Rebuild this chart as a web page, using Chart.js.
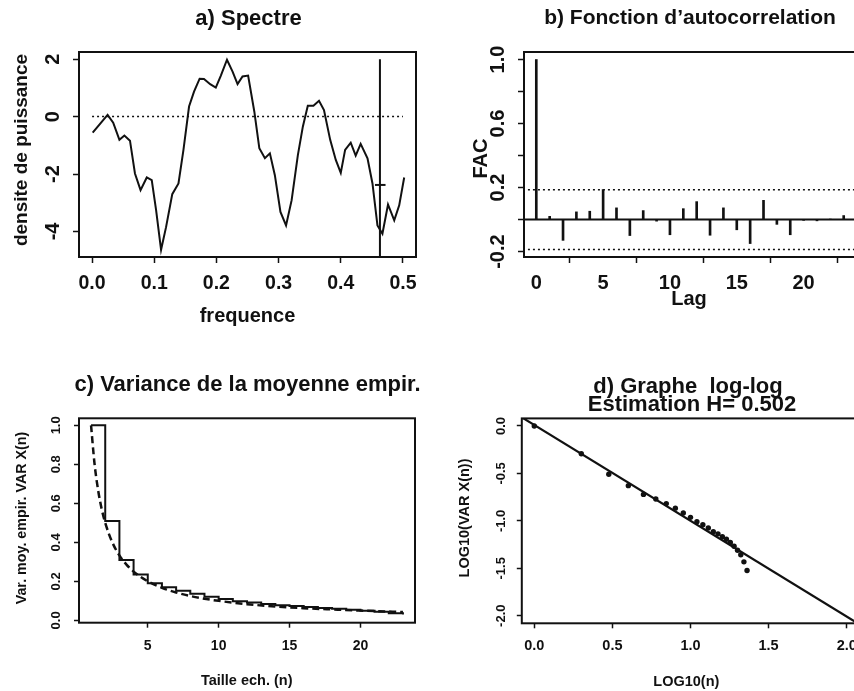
<!DOCTYPE html>
<html><head><meta charset="utf-8">
<script src="https://cdn.jsdelivr.net/npm/chart.js@4.4.1/dist/chart.umd.min.js"></script>
<style>
html,body{margin:0;padding:0;background:#fff;overflow:hidden;width:854px;height:691px;}
canvas{position:absolute;}
</style></head>
<body>
<canvas id="ca" width="430" height="345" style="left:0px;top:0px"></canvas>
<canvas id="cb" width="440" height="345" style="left:430px;top:0px"></canvas>
<canvas id="cc" width="430" height="346" style="left:0px;top:345px"></canvas>
<canvas id="cd" width="440" height="346" style="left:430px;top:345px"></canvas>
<script>
// ---------- a) Spectre ----------
const spectrumFreq = [0.001, 0.025, 0.034, 0.044, 0.052, 0.061, 0.069, 0.078, 0.088, 0.096, 0.103, 0.111, 0.119, 0.129, 0.139, 0.147, 0.156, 0.164, 0.173, 0.180, 0.190, 0.199, 0.207, 0.217, 0.226, 0.234, 0.242, 0.251, 0.261, 0.269, 0.278, 0.286, 0.294, 0.303, 0.312, 0.321, 0.331, 0.339, 0.347, 0.356, 0.365, 0.373, 0.383, 0.392, 0.400, 0.407, 0.416, 0.424, 0.432, 0.443, 0.451, 0.459, 0.467, 0.476, 0.486, 0.494, 0.502];
const spectrumDensity = [-0.56, 0.06, -0.21, -0.81, -0.66, -0.84, -1.98, -2.56, -2.12, -2.21, -3.26, -4.64, -3.85, -2.70, -2.33, -1.16, 0.35, 0.87, 1.32, 1.31, 1.13, 1.01, 1.42, 1.98, 1.57, 1.13, 1.40, 1.43, 0.17, -1.10, -1.45, -1.28, -2.04, -3.32, -3.79, -2.91, -1.34, -0.35, 0.38, 0.38, 0.55, 0.23, -0.81, -1.51, -1.96, -1.16, -0.91, -1.36, -0.95, -1.45, -2.33, -3.79, -4.08, -3.06, -3.61, -3.09, -2.12];
const spectrumRefFreq = [0, 0.5];
const spectrumRefDensity = [0, 0];
const ciBarFreq = [0.463, 0.463];
const ciBarDensity = [2.0, -5.5];
const ciTickFreq = [0.455, 0.472];
const ciTickDensity = [-2.38, -2.38];
const spectrumXTicks = [0, 0.1, 0.2, 0.3, 0.4, 0.5];
const spectrumXLabels = ['0.0', '0.1', '0.2', '0.3', '0.4', '0.5'];
const spectrumYTicks = [-4, -2, 0, 2];
const spectrumYLabels = ['-4', '-2', '0', '2'];

// ---------- b) Fonction d'autocorrelation ----------
const acfLag = [0, 1, 2, 3, 4, 5, 6, 7, 8, 9, 10, 11, 12, 13, 14, 15, 16, 17, 18, 19, 20, 21, 22, 23];
const acfValue = [1.0, 0.02, -0.13, 0.048, 0.052, 0.187, 0.073, -0.10, 0.056, -0.01, -0.095, 0.068, 0.112, -0.098, 0.073, -0.064, -0.15, 0.12, -0.03, -0.095, -0.005, -0.008, 0.003, 0.025];
const acfBound = [0.187, -0.187];
const acfXTicks = [0, 5, 10, 15, 20];
const acfXLabels = ['0', '5', '10', '15', '20'];
const acfYTicks = [-0.2, 0, 0.2, 0.4, 0.6, 0.8, 1.0];
const acfYLabels = ['-0.2', '', '0.2', '', '0.6', '', '1.0'];

// ---------- c) Variance de la moyenne empirique ----------
const sampleSize = [1, 2, 3, 4, 5, 6, 7, 8, 9, 10, 11, 12, 13, 14, 15, 16, 17, 18, 19, 20, 21, 22, 23];
const sampleVar = [1.0, 0.51, 0.31, 0.235, 0.19, 0.17, 0.152, 0.136, 0.121, 0.109, 0.098, 0.091, 0.084, 0.077, 0.073, 0.068, 0.064, 0.059, 0.054, 0.049, 0.044, 0.037, 0.030];
const theoSize = [1, 1.25, 1.5, 1.75, 2, 2.5, 3, 3.5, 4, 5, 6, 7, 8, 9, 10, 12, 14, 16, 18, 20, 23];
const theoVar = [1.0, 0.80, 0.667, 0.571, 0.50, 0.40, 0.333, 0.286, 0.25, 0.20, 0.167, 0.143, 0.125, 0.111, 0.10, 0.083, 0.071, 0.0625, 0.056, 0.05, 0.043];
const varXTicks = [5, 10, 15, 20];
const varXLabels = ['5', '10', '15', '20'];
const varYTicks = [0, 0.2, 0.4, 0.6, 0.8, 1.0];
const varYLabels = ['0.0', '0.2', '0.4', '0.6', '0.8', '1.0'];

// ---------- d) Graphe log-log ----------
const logSize = [0, 0.301, 0.477, 0.602, 0.699, 0.778, 0.845, 0.903, 0.954, 1.0, 1.041, 1.079, 1.114, 1.146, 1.176, 1.204, 1.230, 1.255, 1.279, 1.301, 1.322, 1.342, 1.362];
const logVar = [0, -0.292, -0.509, -0.629, -0.721, -0.770, -0.818, -0.866, -0.917, -0.963, -1.009, -1.041, -1.076, -1.114, -1.137, -1.167, -1.194, -1.229, -1.268, -1.310, -1.357, -1.432, -1.523];
const fitLineX = [-0.08, 2.08];
const fitLineY = [0.091, -2.09];
const logXTicks = [0, 0.5, 1.0, 1.5, 2.0];
const logXLabels = ['0.0', '0.5', '1.0', '1.5', '2.0'];
const logYTicks = [-2, -1.5, -1, -0.5, 0];
const logYLabels = ['-2.0', '-1.5', '-1.0', '-0.5', '0.0'];

// ---------- helpers ----------
const FONT = "'Liberation Sans', Arial, Helvetica, sans-serif";
const INK = '#111';
const pts = (xs, ys) => xs.map((x, i) => ({ x: x, y: ys[i] }));

function frameAndText(texts, ox, oy) {
  return {
    id: 'frameAndText',
    afterDraw(chart) {
      const ctx = chart.ctx, a = chart.chartArea;
      ctx.save();
      ctx.strokeStyle = INK;
      ctx.lineWidth = 2;
      ctx.strokeRect(a.left, a.top, a.right - a.left, a.bottom - a.top);
      ctx.fillStyle = INK;
      for (const t of texts) {
        ctx.save();
        ctx.font = 'bold ' + t.size + 'px ' + FONT;
        ctx.textAlign = 'center';
        ctx.textBaseline = t.base || 'middle';
        ctx.translate(t.x - ox, t.y - oy);
        if (t.rot) ctx.rotate(-Math.PI / 2);
        ctx.fillText(t.t, 0, 0);
        ctx.restore();
      }
      ctx.restore();
    }
  };
}

function xAxis(min, max, ticks, labels, size, pad, tl) {
  return {
    type: 'linear', position: 'bottom', min: min, max: max, offset: false,
    afterBuildTicks: s => { s.ticks = ticks.map(v => ({ value: v })); },
    afterFit: s => { s.height = 40; },
    border: { display: false },
    grid: { drawOnChartArea: false, drawTicks: true, tickLength: tl, tickWidth: 1.5, tickColor: INK },
    ticks: {
      autoSkip: false, maxRotation: 0, minRotation: 0, padding: pad, color: INK,
      font: { family: FONT, size: size, weight: 'bold' },
      callback: (v, i) => labels[i]
    }
  };
}
function yAxis(min, max, ticks, labels, size, pad, tl) {
  return {
    type: 'linear', position: 'left', min: min, max: max,
    afterBuildTicks: s => { s.ticks = ticks.map(v => ({ value: v })); },
    afterFit: s => { s.width = 40; },
    border: { display: false },
    grid: { drawOnChartArea: false, drawTicks: true, tickLength: tl, tickWidth: 1.5, tickColor: INK },
    ticks: {
      autoSkip: false, minRotation: 90, maxRotation: 90, crossAlign: 'center', padding: pad, color: INK,
      font: { family: FONT, size: size, weight: 'bold' },
      callback: (v, i) => labels[i]
    }
  };
}
function baseOptions(padding, scales) {
  return {
    responsive: false, animation: false, devicePixelRatio: 1,
    layout: { padding: padding, autoPadding: false },
    plugins: { legend: { display: false }, tooltip: { enabled: false }, title: { display: false } },
    elements: { point: { radius: 0 }, line: { tension: 0 } },
    scales: scales
  };
}

// ---------- panel a ----------
new Chart(document.getElementById('ca'), {
  type: 'line',
  data: { datasets: [
    { data: pts(spectrumFreq, spectrumDensity), borderColor: INK, borderWidth: 2, pointRadius: 0 },
    { data: pts(spectrumRefFreq, spectrumRefDensity), borderColor: INK, borderWidth: 1.5, borderDash: [2, 3], pointRadius: 0 },
    { data: pts(ciBarFreq, ciBarDensity), borderColor: INK, borderWidth: 2, pointRadius: 0 },
    { data: pts(ciTickFreq, ciTickDensity), borderColor: INK, borderWidth: 2, pointRadius: 0 }
  ]},
  options: baseOptions({ left: 39, right: 14, top: 52, bottom: 48 }, {
    x: xAxis(-0.021, 0.521, spectrumXTicks, spectrumXLabels, 19.5, 8.6, 6),
    y: yAxis(-4.89, 2.25, spectrumYTicks, spectrumYLabels, 20, 10.7, 6)
  }),
  plugins: [frameAndText([
    { t: 'a) Spectre', x: 248.5, y: 18.5, size: 22 },
    { t: 'frequence', x: 247.5, y: 316, size: 20 },
    { t: 'densite de puissance', x: 22, y: 150, size: 19, rot: true }
  ], 0, 0)]
});

// ---------- panel b ----------
new Chart(document.getElementById('cb'), {
  type: 'bar',
  data: { datasets: [
    { type: 'bar', data: pts(acfLag, acfValue), backgroundColor: INK, barThickness: 2, grouped: false },
    { type: 'line', data: pts([-1, 25], [0, 0]), borderColor: INK, borderWidth: 2, pointRadius: 0 },
    { type: 'line', data: pts([-1, 25], [acfBound[0], acfBound[0]]), borderColor: INK, borderWidth: 1.5, borderDash: [2, 3], pointRadius: 0 },
    { type: 'line', data: pts([-1, 25], [acfBound[1], acfBound[1]]), borderColor: INK, borderWidth: 1.5, borderDash: [2, 3], pointRadius: 0 }
  ]},
  options: baseOptions({ left: 54, right: 14, top: 52, bottom: 48 }, {
    x: xAxis(-0.92, 23.92, acfXTicks, acfXLabels, 20, 8.6, 6),
    y: yAxis(-0.234, 1.047, acfYTicks, acfYLabels, 20, 2.5, 6)
  }),
  plugins: [frameAndText([
    { t: 'b) Fonction d\u2019autocorrelation', x: 690, y: 18.5, size: 21 },
    { t: 'FAC', x: 481, y: 158.5, size: 20, rot: true },
    { t: 'Lag', x: 689, y: 299, size: 20 }
  ], 430, 0)]
});

// ---------- panel c ----------
new Chart(document.getElementById('cc'), {
  type: 'line',
  data: { datasets: [
    { data: pts(sampleSize, sampleVar), borderColor: INK, borderWidth: 2, pointRadius: 0, stepped: 'before' },
    { data: pts(theoSize, theoVar), borderColor: INK, borderWidth: 2.5, borderDash: [7, 4], pointRadius: 0, cubicInterpolationMode: 'monotone' }
  ]},
  options: baseOptions({ left: 39, right: 15, top: 73.3, bottom: 28.3 }, {
    x: xAxis(0.15, 23.85, varXTicks, varXLabels, 14, 9.6, 5),
    y: yAxis(-0.012, 1.036, varYTicks, varYLabels, 13, 9, 5)
  }),
  plugins: [frameAndText([
    { t: 'c) Variance de la moyenne empir.', x: 247.5, y: 385, size: 22 },
    { t: 'Var. moy. empir. VAR X(n)', x: 22, y: 518, size: 14.3, rot: true },
    { t: 'Taille ech. (n)', x: 246.7, y: 681, size: 14.5 }
  ], 0, 345)]
});

// ---------- panel d ----------
new Chart(document.getElementById('cd'), {
  type: 'scatter',
  data: { datasets: [
    { type: 'scatter', data: pts(logSize, logVar), backgroundColor: INK, borderColor: INK, pointRadius: 2.7, pointBorderWidth: 0 },
    { type: 'line', data: pts(fitLineX, fitLineY), borderColor: INK, borderWidth: 2.2, pointRadius: 0 }
  ]},
  options: baseOptions({ left: 51.8, right: 10.8, top: 73.4, bottom: 27.7 }, {
    x: xAxis(-0.08, 2.08, logXTicks, logXLabels, 14.5, 8.7, 5),
    y: yAxis(-2.08, 0.08, logYTicks, logYLabels, 13, 4.5, 5)
  }),
  plugins: [frameAndText([
    { t: 'd) Graphe  log-log', x: 688, y: 393.3, size: 22, base: 'alphabetic' },
    { t: 'Estimation H= 0.502', x: 692, y: 410.7, size: 22, base: 'alphabetic' },
    { t: 'LOG10(VAR X(n))', x: 465, y: 518, size: 14.5, rot: true },
    { t: 'LOG10(n)', x: 686.3, y: 681.5, size: 14.5 }
  ], 430, 345)]
});
</script>
</body></html>
